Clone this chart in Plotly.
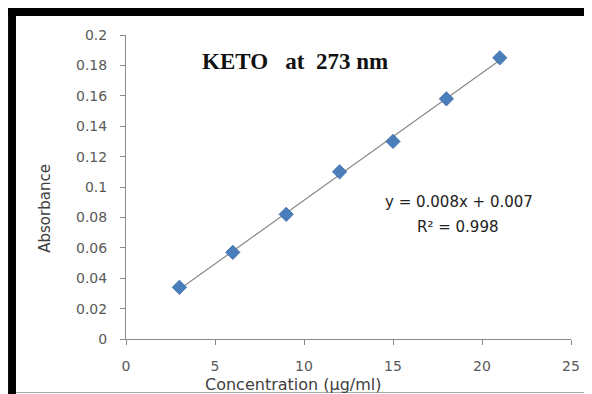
import numpy as np
import plotly.graph_objects as go

concentration = [3, 6, 9, 12, 15, 18, 21]
absorbance = [0.034, 0.057, 0.082, 0.110, 0.130, 0.158, 0.185]
y_ticks = [0, 0.02, 0.04, 0.06, 0.08, 0.1, 0.12, 0.14, 0.16, 0.18, 0.2]
y_labels = ["0", "0.02", "0.04", "0.06", "0.08", "0.1", "0.12", "0.14", "0.16", "0.18", "0.2"]
x_ticks = [0, 5, 10, 15, 20, 25]
x_labels = ["0", "5", "10", "15", "20", "25"]

slope, intercept = np.polyfit(concentration, absorbance, 1)
fit_x = [min(concentration), max(concentration)]
fit_y = [slope * v + intercept for v in fit_x]

# page has an 8px body margin; figure is placed at (8, 8)
OFF = 8
W, H = 592 - OFF, 394 - OFF
L, R, T, B = 126, 575, 35, 339  # plot area in page px


def px(x):
    return (x - L) / (R - L)


def py(y):
    return (B - y) / (B - T)


SANS = "DejaVu Sans, Open Sans, sans-serif"

fig = go.Figure()
fig.add_trace(go.Scatter(x=fit_x, y=fit_y, mode="lines",
                         line=dict(color="#8a8a8a", width=1.2), hoverinfo="skip"))
fig.add_trace(go.Scatter(x=concentration, y=absorbance, mode="markers",
                         marker=dict(symbol="diamond", size=11, color="#4A7EBB",
                                     line=dict(color="#3B6AA5", width=0.8))))

axis_font = dict(family=SANS, size=14, color="#595959")
fig.update_xaxes(range=[0, 25], tickvals=x_ticks, ticktext=x_labels, showgrid=False,
                 zeroline=False, showline=True, linecolor="#898989", linewidth=1,
                 ticks="outside", ticklen=5, tickcolor="#898989", tickfont=axis_font,
                 ticklabelstandoff=9)
fig.update_yaxes(range=[0, 0.2], tickvals=y_ticks, ticktext=y_labels, showgrid=False,
                 zeroline=False, showline=True, linecolor="#898989", linewidth=1,
                 ticks="outside", ticklen=5, tickcolor="#898989", tickfont=axis_font,
                 ticklabelstandoff=10)


def note(text, x, y, font, angle=0):
    return dict(text=text, x=px(x), y=py(y), xref="paper", yref="paper",
                xanchor="center", yanchor="middle", textangle=angle,
                showarrow=False, font=font)


annotations = [
    note("<b>KETO   at  273 nm</b>", 297, 61,
         dict(family="Liberation Serif, Times New Roman, serif", size=23, color="#111111")),
    note("y = 0.008x + 0.007", 462, 202, dict(family=SANS, size=15, color="#222222")),
    note("R² = 0.998", 460, 227, dict(family=SANS, size=15, color="#222222")),
    note("Concentration (µg/ml)", 295, 384, dict(family=SANS, size=16, color="#404040")),
    note("Absorbance", 44, 208, dict(family=SANS, size=15, color="#404040"), angle=-90),
]

shapes = [
    dict(type="rect", xref="paper", yref="paper", x0=px(7), x1=px(592), y0=py(7), y1=py(16),
         fillcolor="black", line=dict(width=0), layer="above"),
    dict(type="rect", xref="paper", yref="paper", x0=px(7), x1=px(15), y0=py(7), y1=py(394),
         fillcolor="black", line=dict(width=0), layer="above"),
    dict(type="line", xref="paper", yref="paper", x0=px(590.5), x1=px(590.5), y0=py(16), y1=py(393),
         line=dict(color="#aaaaaa", width=1)),
    dict(type="line", xref="paper", yref="paper", x0=px(15), x1=px(591), y0=py(392.5), y1=py(392.5),
         line=dict(color="#aaaaaa", width=1)),
]

fig.update_layout(width=W, height=H,
                  margin=dict(l=L - OFF, r=592 - R, t=T - OFF, b=394 - B),
                  paper_bgcolor="white", plot_bgcolor="white", showlegend=False,
                  annotations=annotations, shapes=shapes)

fig.write_html("out.html")
